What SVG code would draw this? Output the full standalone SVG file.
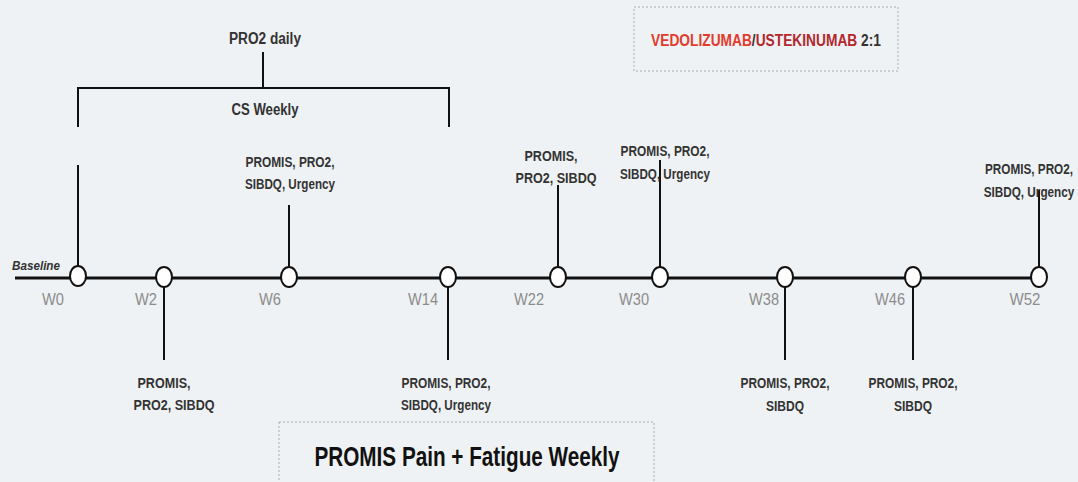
<svg xmlns="http://www.w3.org/2000/svg" width="1078" height="482" viewBox="0 0 1078 482">
  <style>
    .lbl { font-family: "Liberation Sans", Arial, sans-serif; font-weight: bold; font-size: 14px; fill: #333; text-anchor: middle; }
    .wk { font-family: "Liberation Sans", Arial, sans-serif; font-size: 16px; fill: #8c8c8c; text-anchor: middle; }
    .ln { stroke: #111; stroke-width: 2; fill: none; }
    .node { fill: #fff; stroke: #111; stroke-width: 2; }
    .box { fill: none; stroke: #aaa; stroke-width: 1; stroke-dasharray: 2 2; }
  </style>
  <rect width="1078" height="482" fill="#eff2f4"/>

  <!-- legend box -->
  <g id="legend">
    <rect class="box" x="634" y="7" width="264" height="64"/>
    <text transform="translate(766 46) scale(0.86 1)" class="lbl" style="font-size:16px"><tspan fill="#e23b2e">VEDOLIZUMAB</tspan><tspan fill="#333">/</tspan><tspan fill="#b3282d">USTEKINUMAB</tspan><tspan fill="#333"> 2:1</tspan></text>
  </g>

  <!-- weekly PROMIS box -->
  <g id="weekly">
    <rect class="box" x="279" y="422" width="375" height="64"/>
    <text x="467" y="466" class="lbl" style="font-size:28px;fill:#111" textLength="305" lengthAdjust="spacingAndGlyphs">PROMIS Pain + Fatigue Weekly</text>
  </g>

  <!-- connectors -->
  <g id="connectors">
    <line class="ln" x1="15" y1="278" x2="1040" y2="278" style="stroke-width:3"/>
    <path class="ln" d="M78 127 V88 H449 V127 M263 52 V88"/>
    <line class="ln" x1="78" y1="165" x2="78" y2="268"/>
    <line class="ln" x1="289" y1="205" x2="289" y2="268"/>
    <line class="ln" x1="558" y1="185" x2="558" y2="268"/>
    <line class="ln" x1="660" y1="160" x2="660" y2="268"/>
    <line class="ln" x1="1039" y1="190" x2="1039" y2="268"/>
    <line class="ln" x1="164" y1="287" x2="164" y2="360"/>
    <line class="ln" x1="448" y1="287" x2="448" y2="360"/>
    <line class="ln" x1="785" y1="287" x2="785" y2="360"/>
    <line class="ln" x1="913" y1="287" x2="913" y2="360"/>
  </g>

  <g id="bracket-labels">
    <text x="265" y="44" class="lbl" style="font-size:16px" textLength="72" lengthAdjust="spacingAndGlyphs">PRO2 daily</text>
    <text x="265" y="115" class="lbl" style="font-size:16px" textLength="67" lengthAdjust="spacingAndGlyphs">CS Weekly</text>
  </g>

  <g id="w0">
    <text x="12" y="270" class="lbl" style="font-style:italic;text-anchor:start;font-size:13px" textLength="48" lengthAdjust="spacingAndGlyphs">Baseline</text>
    <ellipse class="node" cx="78" cy="276" rx="8" ry="10"/>
    <text x="53" y="305" class="wk" textLength="22" lengthAdjust="spacingAndGlyphs">W0</text>
  </g>
  <g id="w2">
    <ellipse class="node" cx="164" cy="277" rx="8" ry="10"/>
    <text x="146" y="305" class="wk" textLength="22" lengthAdjust="spacingAndGlyphs">W2</text>
    <text x="164" y="388" class="lbl" textLength="53" lengthAdjust="spacingAndGlyphs">PROMIS,</text>
    <text x="174" y="410" class="lbl" textLength="81" lengthAdjust="spacingAndGlyphs">PRO2, SIBDQ</text>
  </g>
  <g id="w6">
    <ellipse class="node" cx="289" cy="277" rx="8" ry="10"/>
    <text x="270" y="305" class="wk" textLength="22" lengthAdjust="spacingAndGlyphs">W6</text>
    <text x="290" y="167" class="lbl" textLength="89" lengthAdjust="spacingAndGlyphs">PROMIS, PRO2,</text>
    <text x="290" y="189" class="lbl" textLength="90" lengthAdjust="spacingAndGlyphs">SIBDQ, Urgency</text>
  </g>
  <g id="w14">
    <ellipse class="node" cx="448" cy="277" rx="8" ry="10"/>
    <text x="423" y="305" class="wk" textLength="30" lengthAdjust="spacingAndGlyphs">W14</text>
    <text x="446" y="388" class="lbl" textLength="89" lengthAdjust="spacingAndGlyphs">PROMIS, PRO2,</text>
    <text x="446" y="410" class="lbl" textLength="90" lengthAdjust="spacingAndGlyphs">SIBDQ, Urgency</text>
  </g>
  <g id="w22">
    <ellipse class="node" cx="558" cy="277" rx="8" ry="10"/>
    <text x="529" y="305" class="wk" textLength="30" lengthAdjust="spacingAndGlyphs">W22</text>
    <text x="551" y="161" class="lbl" textLength="53" lengthAdjust="spacingAndGlyphs">PROMIS,</text>
    <text x="556" y="183" class="lbl" textLength="81" lengthAdjust="spacingAndGlyphs">PRO2, SIBDQ</text>
  </g>
  <g id="w30">
    <ellipse class="node" cx="660" cy="277" rx="8" ry="10"/>
    <text x="634" y="305" class="wk" textLength="30" lengthAdjust="spacingAndGlyphs">W30</text>
    <text x="665" y="156" class="lbl" textLength="89" lengthAdjust="spacingAndGlyphs">PROMIS, PRO2,</text>
    <text x="665" y="179" class="lbl" textLength="90" lengthAdjust="spacingAndGlyphs">SIBDQ, Urgency</text>
  </g>
  <g id="w38">
    <ellipse class="node" cx="785" cy="277" rx="8" ry="10"/>
    <text x="764" y="305" class="wk" textLength="30" lengthAdjust="spacingAndGlyphs">W38</text>
    <text x="785" y="388" class="lbl" textLength="89" lengthAdjust="spacingAndGlyphs">PROMIS, PRO2,</text>
    <text x="785" y="411" class="lbl" textLength="38" lengthAdjust="spacingAndGlyphs">SIBDQ</text>
  </g>
  <g id="w46">
    <ellipse class="node" cx="913" cy="277" rx="8" ry="10"/>
    <text x="890" y="305" class="wk" textLength="30" lengthAdjust="spacingAndGlyphs">W46</text>
    <text x="913" y="388" class="lbl" textLength="89" lengthAdjust="spacingAndGlyphs">PROMIS, PRO2,</text>
    <text x="913" y="411" class="lbl" textLength="38" lengthAdjust="spacingAndGlyphs">SIBDQ</text>
  </g>
  <g id="w52">
    <ellipse class="node" cx="1039" cy="277" rx="8" ry="10"/>
    <text x="1025" y="305" class="wk" textLength="31" lengthAdjust="spacingAndGlyphs">W52</text>
    <text transform="translate(1029 174) scale(0.84 1)" class="lbl">PROMIS, PRO2,</text>
    <text transform="translate(1029 197) scale(0.84 1)" class="lbl">SIBDQ, Urgency</text>
  </g>
</svg>
